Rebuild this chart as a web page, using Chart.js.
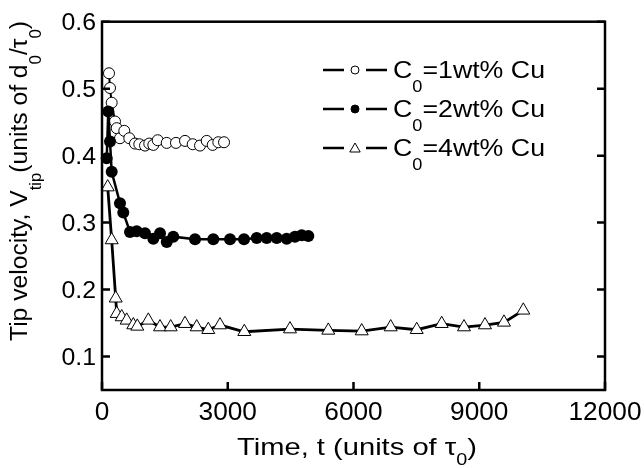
<!DOCTYPE html>
<html>
<head>
<meta charset="utf-8">
<script src="https://cdn.jsdelivr.net/npm/chart.js@4.4.1/dist/chart.umd.min.js"></script>
<style>
  html, body { margin: 0; padding: 0; background: #fff; }
  canvas { display: block; }
</style>
</head>
<body>
<canvas id="chart" width="644" height="468"></canvas>
<script>
// C0 = 1 wt% Cu (open circles)
const t1 = [167, 191, 231, 310, 351, 429, 532, 651, 787, 890, 1026, 1128, 1224, 1329, 1544, 1765, 1980, 2164, 2338, 2498, 2641, 2775, 2911];
const v1 = [0.523, 0.501, 0.479, 0.451, 0.441, 0.426, 0.437, 0.426, 0.418, 0.417, 0.415, 0.418, 0.416, 0.423, 0.419, 0.419, 0.422, 0.417, 0.415, 0.422, 0.416, 0.420, 0.420];
// C0 = 2 wt% Cu (filled circles)
const t2 = [112, 150, 191, 231, 429, 508, 668, 828, 1026, 1224, 1384, 1544, 1701, 2219, 2655, 3054, 3388, 3691, 3929, 4168, 4406, 4604, 4764, 4922];
const v2 = [0.396, 0.466, 0.421, 0.376, 0.329, 0.315, 0.286, 0.287, 0.284, 0.276, 0.284, 0.271, 0.279, 0.275, 0.275, 0.275, 0.275, 0.277, 0.277, 0.277, 0.276, 0.279, 0.281, 0.280];
// C0 = 4 wt% Cu (open triangles)
const t3 = [136, 231, 327, 351, 470, 589, 747, 842, 1105, 1384, 1639, 1980, 2259, 2536, 2815, 3395, 4485, 5399, 6196, 6887, 7508, 8104, 8636, 9137, 9590, 10051];
const v3 = [0.353, 0.274, 0.187, 0.164, 0.159, 0.154, 0.147, 0.145, 0.154, 0.144, 0.144, 0.149, 0.144, 0.140, 0.147, 0.137, 0.141, 0.139, 0.138, 0.144, 0.140, 0.149, 0.144, 0.147, 0.151, 0.169];

const seriesNames = ['1wt% Cu', '2wt% Cu', '4wt% Cu'];
const xTicks = [0, 3000, 6000, 9000, 12000];
const yTicks = [0.1, 0.2, 0.3, 0.4, 0.5, 0.6];

const pts = (xs, ys) => xs.map((x, i) => ({ x: x, y: ys[i] }));
const FONT = '"Liberation Sans", Arial, sans-serif';

// text with subscripts: parts = [[text, isSub], ...]
function rich(ctx, parts, x, y, o) {
  const subSize = o.size * (o.subScale || 0.68);
  let w = 0;
  const ws = parts.map(([s, sub]) => {
    ctx.font = (sub ? subSize : o.size) + 'px ' + FONT;
    const m = ctx.measureText(s).width;
    w += m;
    return m;
  });
  const sx = o.width ? o.width / w : (o.sx || 1);
  let cx = o.align === 'center' ? -w / 2 : o.align === 'right' ? -w : 0;
  ctx.save();
  ctx.translate(x, y);
  if (o.rot) ctx.rotate(o.rot);
  ctx.scale(sx, o.sy || 1);
  ctx.fillStyle = '#000';
  ctx.textAlign = 'left';
  ctx.textBaseline = 'alphabetic';
  parts.forEach(([s, sub], i) => {
    ctx.font = (sub ? subSize : o.size) + 'px ' + FONT;
    ctx.fillText(s, cx, sub ? o.size * o.subDy : 0);
    cx += ws[i];
  });
  ctx.restore();
}

function marker(ctx, style, x, y, r, fill) {
  ctx.beginPath();
  if (style === 'triangle') {
    ctx.moveTo(x, y - r);
    ctx.lineTo(x + r * 0.866, y + r / 2);
    ctx.lineTo(x - r * 0.866, y + r / 2);
    ctx.closePath();
  } else {
    ctx.arc(x, y, r, 0, Math.PI * 2);
  }
  ctx.fillStyle = fill;
  ctx.fill();
  ctx.lineWidth = 1;
  ctx.strokeStyle = '#000';
  ctx.stroke();
}

const frame = {
  id: 'frame',
  afterDraw(chart) {
    const { ctx, chartArea: a } = chart;
    const xs = chart.scales.x, ys = chart.scales.y;
    ctx.save();
    ctx.strokeStyle = '#000';
    ctx.lineWidth = 2.5;
    ctx.strokeRect(a.left, a.top, a.right - a.left, a.bottom - a.top);
    ctx.beginPath();
    xTicks.forEach(v => {
      const px = xs.getPixelForValue(v);
      ctx.moveTo(px, a.bottom);
      ctx.lineTo(px, a.bottom - 8);
    });
    yTicks.forEach(v => {
      const py = ys.getPixelForValue(v);
      ctx.moveTo(a.left, py);
      ctx.lineTo(a.left + 8, py);
      ctx.moveTo(a.right, py);
      ctx.lineTo(a.right - 8, py);
    });
    ctx.stroke();

    // tick labels
    xTicks.forEach(v => {
      rich(ctx, [[String(v), false]], xs.getPixelForValue(v), 420, { size: 25, sx: 1.05, align: 'center' });
    });
    yTicks.forEach(v => {
      rich(ctx, [[v.toFixed(1), false]], 96, ys.getPixelForValue(v) + 8.2, { size: 23, sx: 1.08, align: 'right' });
    });

    // axis titles
    rich(ctx, [['Time, t (units of \u03c4', false], ['0', true], [')', false]], 357, 455,
      { size: 24, width: 240, align: 'center', subDy: 0.4 });
    rich(ctx, [['Tip velocity, V', false], ['tip', true], ['(units of d', false], ['0', true],
      ['/\u03c4', false], ['0', true], [')', false]], 27, 181,
      { size: 23, width: 320, align: 'center', rot: -Math.PI / 2, subDy: 0.62 });

    // legend
    const styles = [['circle', '#fff', 4], ['circle', '#000', 4], ['triangle', '#fff', 6]];
    seriesNames.forEach((name, i) => {
      const cy = 70 + i * 39;
      ctx.lineWidth = 2.3;
      ctx.strokeStyle = '#000';
      ctx.beginPath();
      ctx.moveTo(323, cy); ctx.lineTo(344, cy);
      ctx.moveTo(366, cy); ctx.lineTo(387, cy);
      ctx.stroke();
      marker(ctx, styles[i][0], 355, cy + (styles[i][0] === 'triangle' ? 1 : 0), styles[i][2], styles[i][1]);
      rich(ctx, [['C', false], ['0', true], ['=' + name, false]], 393, cy + 8.3,
        { size: 23, width: 152, align: 'left', subDy: 0.58 });
    });
    ctx.restore();
  }
};

new Chart(document.getElementById('chart'), {
  type: 'scatter',
  data: {
    datasets: [
      {
        label: 'C0=' + seriesNames[0],
        data: pts(t1, v1),
        showLine: true,
        borderColor: '#000',
        borderWidth: 2,
        pointStyle: 'circle',
        pointRadius: 5.5,
        pointBackgroundColor: '#fff',
        pointBorderColor: '#000',
        pointBorderWidth: 1,
        clip: false,
        order: 1
      },
      {
        label: 'C0=' + seriesNames[1],
        data: pts(t2, v2),
        showLine: true,
        borderColor: '#000',
        borderWidth: 2.5,
        pointStyle: 'circle',
        pointRadius: 6,
        pointBackgroundColor: '#000',
        pointBorderColor: '#000',
        pointBorderWidth: 0,
        clip: false,
        order: 0
      },
      {
        label: 'C0=' + seriesNames[2],
        data: pts(t3, v3),
        showLine: true,
        borderColor: '#000',
        borderWidth: 2.8,
        pointStyle: 'triangle',
        pointRadius: 7.5,
        pointBackgroundColor: '#fff',
        pointBorderColor: '#000',
        pointBorderWidth: 1,
        clip: false,
        order: 2
      }
    ]
  },
  options: {
    responsive: false,
    animation: false,
    layout: { padding: { left: 102, right: 39, top: 21.7, bottom: 78 } },
    plugins: { legend: { display: false }, tooltip: { enabled: false } },
    scales: {
      x: { type: 'linear', min: 0, max: 12000, display: false },
      y: { type: 'linear', min: 0.05, max: 0.6, display: false }
    }
  },
  plugins: [frame]
});
</script>
</body>
</html>
